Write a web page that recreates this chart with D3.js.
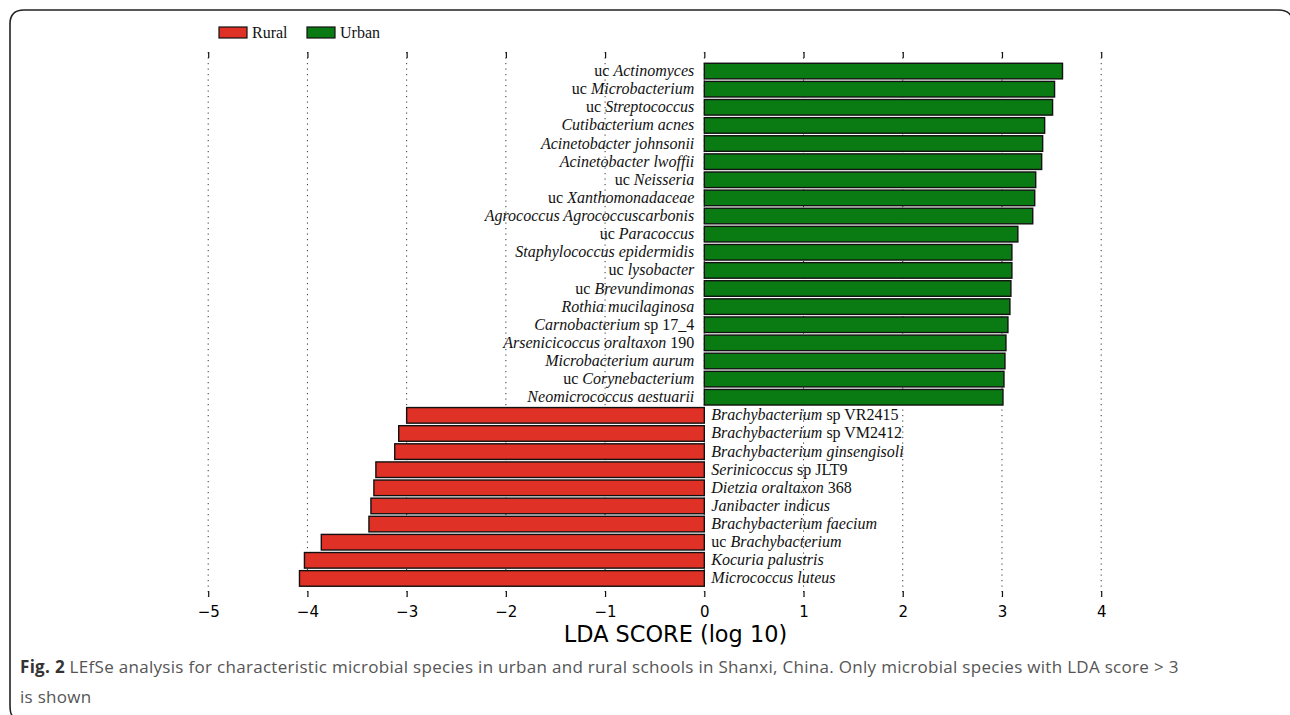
<!DOCTYPE html>
<html>
<head>
<meta charset="utf-8">
<script src="https://cdnjs.cloudflare.com/ajax/libs/d3/7.8.5/d3.min.js"></script>
<style>
  body { margin: 0; background: white; }
  svg { display: block; }
</style>
</head>
<body>
<svg id="chart"></svg>
<script>
// Labels are [plain prefix, italic part, plain suffix]
const urbanLabels = [
  ['uc ', 'Actinomyces', ''],
  ['uc ', 'Microbacterium', ''],
  ['uc ', 'Streptococcus', ''],
  ['', 'Cutibacterium acnes', ''],
  ['', 'Acinetobacter johnsonii', ''],
  ['', 'Acinetobacter lwoffii', ''],
  ['uc ', 'Neisseria', ''],
  ['uc ', 'Xanthomonadaceae', ''],
  ['', 'Agrococcus Agrococcuscarbonis', ''],
  ['uc ', 'Paracoccus', ''],
  ['', 'Staphylococcus epidermidis', ''],
  ['uc ', 'lysobacter', ''],
  ['uc ', 'Brevundimonas', ''],
  ['', 'Rothia mucilaginosa', ''],
  ['', 'Carnobacterium', ' sp 17_4'],
  ['', 'Arsenicicoccus oraltaxon', ' 190'],
  ['', 'Microbacterium aurum', ''],
  ['uc ', 'Corynebacterium', ''],
  ['', 'Neomicrococcus aestuarii', '']
];
const urbanScores = [3.61, 3.53, 3.51, 3.43, 3.41, 3.40, 3.34, 3.33, 3.31, 3.16,
                     3.10, 3.10, 3.09, 3.08, 3.06, 3.04, 3.03, 3.02, 3.01];

const ruralLabels = [
  ['', 'Brachybacterium', ' sp VR2415'],
  ['', 'Brachybacterium', ' sp VM2412'],
  ['', 'Brachybacterium ginsengisoli', ''],
  ['', 'Serinicoccus', ' sp JLT9'],
  ['', 'Dietzia oraltaxon', ' 368'],
  ['', 'Janibacter indicus', ''],
  ['', 'Brachybacterium faecium', ''],
  ['uc ', 'Brachybacterium', ''],
  ['', 'Kocuria palustris', ''],
  ['', 'Micrococcus luteus', '']
];
const ruralScores = [-3.00, -3.08, -3.12, -3.31, -3.33, -3.36, -3.38, -3.86, -4.03, -4.08];

const groups = ['Rural', 'Urban'];
const groupColors = ['#e03126', '#0a7b12'];
const xTicks = [-5, -4, -3, -2, -1, 0, 1, 2, 3, 4];

class LefseVis {

  constructor(_config) {
    this.config = {
      parentElement: _config.parentElement,
      containerWidth: _config.containerWidth || 1290,
      containerHeight: _config.containerHeight || 715
    }
  }

  initVis() {
    let vis = this;

    vis.svg = d3.select(vis.config.parentElement)
        .attr('width', vis.config.containerWidth)
        .attr('height', vis.config.containerHeight);

    // Build the rows, urban first then rural
    vis.rows = urbanLabels.map((l, i) => ({ label: l, score: urbanScores[i], group: 1 }))
      .concat(ruralLabels.map((l, i) => ({ label: l, score: ruralScores[i], group: 0 })));
    vis.rows.forEach((d, i) => d.id = i);

    vis.x = d3.scaleLinear()
        .domain([-5, 4])
        .range([208.2, 1101.2]);

    vis.y = d3.scaleBand()
        .domain(vis.rows.map(d => d.id))
        .range([62, 587.5])
        .paddingInner(0.14)
        .paddingOuter(0.07);

    // Rounded frame around the figure
    vis.svg.append('path')
        .attr('d', 'M13,716 Q10,715 10,705 L10,24 Q10,10 24,10 L1278,10 Q1288,10 1291,16')
        .attr('fill', 'none')
        .attr('stroke', '#222')
        .attr('stroke-width', 1.6);

    vis.chart = vis.svg.append('g');

    // Dotted grid lines
    vis.chart.selectAll('.grid')
        .data(xTicks)
      .join('line')
        .attr('class', 'grid')
        .attr('x1', d => vis.x(d))
        .attr('x2', d => vis.x(d))
        .attr('y1', 52)
        .attr('y2', 597)
        .attr('stroke', '#333')
        .attr('stroke-width', 1)
        .attr('stroke-dasharray', '1.2,4.3');

    // Bottom axis, ticks pointing inward
    vis.axisG = vis.chart.append('g')
        .attr('transform', 'translate(0,597)')
        .call(d3.axisBottom(vis.x)
          .tickValues(xTicks)
          .tickSizeInner(-6)
          .tickSizeOuter(0)
          .tickPadding(9)
          .tickFormat(d => d < 0 ? '\u2212' + Math.abs(d) : d));
    vis.axisG.select('.domain').remove();
    vis.axisG.selectAll('line').attr('stroke', '#111').attr('stroke-width', 1.2);
    vis.axisG.selectAll('text')
        .attr('font-family', 'DejaVu Sans')
        .attr('font-size', 15)
        .attr('fill', '#000');

    // Top ticks, no labels
    vis.topG = vis.chart.append('g')
        .attr('transform', 'translate(0,52)')
        .call(d3.axisTop(vis.x).tickValues(xTicks).tickSizeInner(-6).tickSizeOuter(0).tickFormat(''));
    vis.topG.select('.domain').remove();
    vis.topG.selectAll('line').attr('stroke', '#111').attr('stroke-width', 1.2);

    // Axis title
    vis.chart.append('text')
        .attr('x', 675.5)
        .attr('y', 642)
        .attr('text-anchor', 'middle')
        .attr('font-family', 'DejaVu Sans')
        .attr('font-size', 22.4)
        .text('LDA SCORE (log 10)');

    vis.createLegend();
    vis.createCaption();
  }

  render() {
    let vis = this;

    // Bars
    vis.chart.selectAll('.bar')
        .data(vis.rows)
      .join('rect')
        .attr('class', 'bar')
        .attr('x', d => vis.x(Math.min(0, d.score)))
        .attr('y', d => vis.y(d.id))
        .attr('width', d => Math.abs(vis.x(d.score) - vis.x(0)))
        .attr('height', vis.y.bandwidth())
        .attr('fill', d => groupColors[d.group])
        .attr('stroke', '#111')
        .attr('stroke-width', 1.4);

    // Labels on the opposite side of zero
    let labels = vis.chart.selectAll('.label')
        .data(vis.rows)
      .join('text')
        .attr('class', 'label')
        .attr('x', d => d.score > 0 ? vis.x(0) - 10 : vis.x(0) + 7)
        .attr('y', d => vis.y(d.id) + vis.y.bandwidth() / 2 + 5)
        .attr('text-anchor', d => d.score > 0 ? 'end' : 'start')
        .attr('font-family', 'Liberation Serif')
        .attr('font-size', 16)
        .attr('fill', '#111');

    labels.each(function(d) {
      let t = d3.select(this);
      if (d.label[0]) t.append('tspan').text(d.label[0]);
      t.append('tspan').attr('font-style', 'italic').text(d.label[1]);
      if (d.label[2]) t.append('tspan').text(d.label[2]);
    });
  }

  createLegend() {
    let vis = this;

    let leg = vis.svg.append('g')
        .attr('transform', 'translate(219,27)');

    let items = leg.selectAll('.leg')
        .data(groups)
      .join('g')
        .attr('class', 'leg')
        .attr('transform', (d, i) => `translate(${i * 88},0)`);

    items.append('rect')
        .attr('width', 28)
        .attr('height', 11)
        .attr('fill', (d, i) => groupColors[i])
        .attr('stroke', '#111')
        .attr('stroke-width', 1.2);

    items.append('text')
        .attr('x', 33)
        .attr('y', 11)
        .attr('font-family', 'Liberation Serif')
        .attr('font-size', 16)
        .attr('fill', '#111')
        .text(d => d);
  }

  createCaption() {
    let vis = this;

    let cap = vis.svg.append('text')
        .attr('x', 20)
        .attr('y', 673)
        .attr('font-family', 'Open Sans')
        .attr('font-size', 17)
        .attr('letter-spacing', 0.3)
        .attr('fill', '#555');

    cap.append('tspan')
        .attr('font-weight', 'bold')
        .attr('fill', '#333')
        .text('Fig. 2');
    cap.append('tspan')
        .text(' LEfSe analysis for characteristic microbial species in urban and rural schools in Shanxi, China. Only microbial species with LDA score > 3');

    vis.svg.append('text')
        .attr('x', 20)
        .attr('y', 703)
        .attr('font-family', 'Open Sans')
        .attr('font-size', 17)
        .attr('letter-spacing', 0.3)
        .attr('fill', '#555')
        .text('is shown');
  }
}

let vis = new LefseVis({ parentElement: '#chart' });
vis.initVis();
vis.render();
</script>
</body>
</html>
